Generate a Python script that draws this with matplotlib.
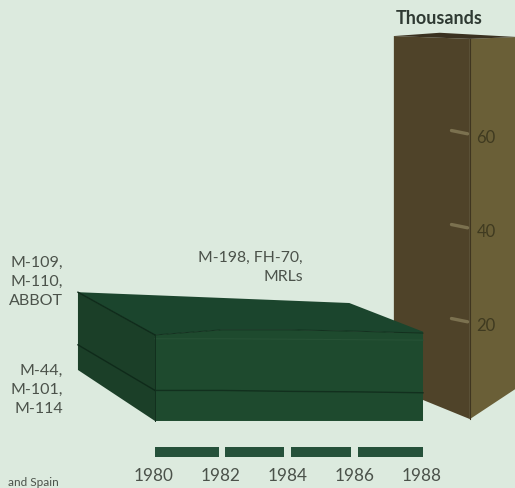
import matplotlib
matplotlib.use("Agg")
import matplotlib.pyplot as plt

plt.rcParams['font.family'] = ['Lato', 'DejaVu Sans']

# values, thousands
years = [1980, 1982, 1984, 1986, 1988]
lower_front = [6.5, 6.5, 6.3, 6.2, 6.0]
total_front = [18.3, 19.4, 19.4, 19.1, 18.7]
inner_line = [17.5, 17.5, 17.4, 17.3, 17.2]

# rear side of the green block, drawn in perspective
rear_year = 1977.7
rear_bottom = 10.85
rear_lower = 16.2
rear_top_years = [1977.7, 1985.8, 1988]
rear_top_vals = [27.4, 25.1, 19.0]

# brown block
brown_corner = 1989.4
brown_left = 1987.13
brown_right = 1990.8
brown_base = 0.4
brown_left_base = 7.0
brown_right_base = 7.0
brown_top = 81.3
brown_left_top = 81.9
brown_right_top = 81.7
brown_back = 1988.5
brown_back_top = 82.6

tick_vals = [20, 40, 60]
segments = [(1980, 1981.9), (1982.1, 1983.85), (1984.05, 1985.85), (1986.05, 1988)]

BG = '#dceade'
TXT = '#4b524a'

fig = plt.figure(figsize=(5.15, 4.88), dpi=100, facecolor=BG)
ax = fig.add_axes([0, 0, 1, 1])
# 33.5 px per year, 4.7 px per thousand
ax.set_xlim(1975.373, 1990.746)
ax.set_ylim(-14.26, 89.57)
ax.axis('off')

# brown block
ax.fill([brown_left, brown_corner, brown_corner, brown_left],
        [brown_left_base, brown_base, brown_top, brown_left_top],
        color='#4f4329', lw=0, zorder=1)
ax.fill([brown_corner, brown_right, brown_right, brown_corner],
        [brown_base, brown_right_base, brown_right_top, brown_top],
        color='#6a5f37', lw=0, zorder=1)
ax.fill([brown_left, brown_back, brown_right, brown_corner],
        [brown_left_top, brown_back_top, brown_right_top, brown_top],
        color='#3a3120', lw=0, zorder=1)
ax.plot([brown_corner, brown_corner], [brown_base, brown_top], color='#3f3520', lw=0.8, zorder=2)

for v in tick_vals:
    ax.plot([brown_corner - 0.55, brown_corner - 0.07], [v + 1.8, v + 1.1], color='#8f8560', lw=2.4,
            alpha=0.7, solid_capstyle='round', zorder=2)
    ax.text(brown_corner + 0.2, v + 0.3, str(v), color='#3f3a20', fontsize=12, va='center', ha='left', zorder=3)

# green block
ax.fill(years + [years[-1], years[0]], total_front + [0, 0], color='#1e4a2e', lw=0, zorder=4)
ax.fill([rear_year, years[0], years[0], rear_year],
        [rear_bottom, 0, total_front[0], rear_top_vals[0]], color='#1b3f28', lw=0, zorder=4)
ax.fill(rear_top_years + years[::-1], rear_top_vals + total_front[::-1], color='#1b452d', lw=0, zorder=4)

ax.plot(years, lower_front, color='#12301e', lw=1.0, zorder=5)
ax.plot(years, total_front, color='#12301e', lw=0.7, zorder=5)
ax.plot(years, inner_line, color='#275236', lw=0.8, zorder=5)
ax.plot([rear_year, years[0]], [rear_lower, lower_front[0]], color='#0f2a1a', lw=1.0, zorder=5)
ax.plot([rear_year, years[0]], [rear_top_vals[0], total_front[0]], color='#0f2a1a', lw=1.0, zorder=5)
ax.plot([years[0], years[0]], [0, total_front[0]], color='#12301e', lw=0.7, zorder=5)

# year bar
ax.broken_barh([(a, b - a) for a, b in segments], (-7.7, 2.1), color='#25513a', lw=0, zorder=4)
for y in years:
    ax.text(y - 0.03, -11.7, str(y), color=TXT, fontsize=12.3, ha='center', va='center')

# labels
ax.text(1988.48, 85.6, 'Thousands', color='#2f3a33', fontsize=13, fontweight='bold', ha='center', va='center')
ax.text(1977.25, 29.6, 'M-109,\nM-110,\nABBOT', color=TXT, fontsize=11.5, ha='right', va='center', linespacing=1.43)
ax.text(1977.25, 6.6, 'M-44,\nM-101,\nM-114', color=TXT, fontsize=11.5, ha='right', va='center', linespacing=1.43)
ax.text(1984.42, 32.7, 'M-198, FH-70,\nMRLs', color=TXT, fontsize=11.3, ha='right', va='center', linespacing=1.45)
ax.text(1975.6, -13.0, 'and Spain', color=TXT, fontsize=8.5, ha='left', va='center')

fig.savefig('out.png', dpi=100, facecolor=BG)
